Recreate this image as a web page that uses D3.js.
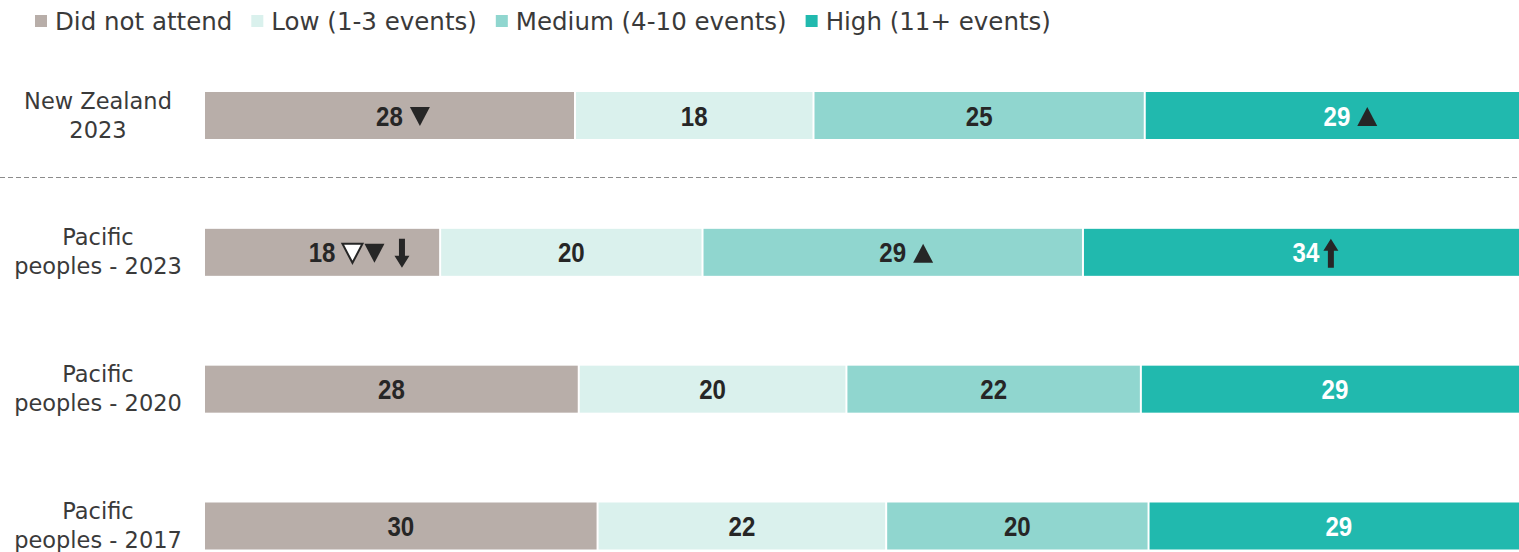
<!DOCTYPE html>
<html>
<head>
<meta charset="utf-8">
<script src="https://cdn.jsdelivr.net/npm/d3@7"></script>
<style>
  body { margin: 0; background: #fff; }
  svg { display: block; }
  .catLabel { font-family: "DejaVu Sans", sans-serif; font-size: 22.5px; fill: #3a3a3a; }
  .legendText { font-family: "DejaVu Sans", sans-serif; font-size: 24.5px; fill: #3a3a3a; }
  .valueLabel { font-family: "Liberation Sans", sans-serif; font-weight: bold; font-size: 28px; }
</style>
</head>
<body>
<svg id="chart" width="1519" height="552"></svg>
<script>
var categories = ['New Zealand 2023', 'Pacific peoples - 2023', 'Pacific peoples - 2020', 'Pacific peoples - 2017'];
var categoryLines = [['New Zealand', '2023'], ['Pacific', 'peoples - 2023'], ['Pacific', 'peoples - 2020'], ['Pacific', 'peoples - 2017']];
var seriesNames = ['Did not attend', 'Low (1-3 events)', 'Medium (4-10 events)', 'High (11+ events)'];
var seriesColors = ['#b8aea9', '#daf1ed', '#90d6cf', '#21b9ae'];
var labelColors = ['#262626', '#262626', '#262626', '#ffffff'];

var didNotAttend = [28, 18, 28, 30];
var low = [18, 20, 20, 22];
var medium = [25, 29, 22, 20];
var high = [29, 34, 29, 29];

// significance markers per row, per series
var markers = [
    [['down'], [], [], ['up']],
    [['downOpen', 'down', 'arrowDown'], [], ['up'], ['arrowUp']],
    [[], [], [], []],
    [[], [], [], []]
];

var seriesValues = [didNotAttend, low, medium, high];
var table = categories.map(function(c, i) {
    var row = { cat: c, idx: i };
    seriesNames.forEach(function(s, j) { row[s] = seriesValues[j][i]; });
    return row;
});

var svg = d3.select('#chart');

var x = d3.scaleLinear().domain([0, 1]).range([204, 1529]);
var y = d3.scalePoint().domain(categories).range([115.5, 526]);
var barH = 47;

var stacked = d3.stack().keys(seriesNames).offset(d3.stackOffsetExpand)(table);

// legend
var legend = svg.append('g').attr('transform', 'translate(35, 0)');
var lx = 0;
seriesNames.forEach(function(s, i) {
    legend.append('rect')
        .attr('x', lx).attr('y', 15)
        .attr('width', 12).attr('height', 12)
        .attr('fill', seriesColors[i]);
    var t = legend.append('text').classed('legendText', true)
        .attr('x', lx + 20).attr('y', 30)
        .text(s);
    lx += 20 + t.node().getComputedTextLength() + 19;
});

// dashed separator
svg.append('line')
    .attr('x1', 0).attr('x2', 1519)
    .attr('y1', 177.5).attr('y2', 177.5)
    .attr('stroke', '#8c8c8c')
    .attr('stroke-width', 1)
    .attr('stroke-dasharray', '5,3');

// category labels
categories.forEach(function(c, i) {
    var t = svg.append('text').classed('catLabel', true)
        .attr('text-anchor', 'middle')
        .attr('x', 98)
        .attr('y', y(c) - 7);
    categoryLines[i].forEach(function(line, k) {
        t.append('tspan').attr('x', 98).attr('dy', k == 0 ? 0 : 29).text(line);
    });
});

// bars
var layer = svg.selectAll('.layer')
    .data(stacked)
    .enter().append('g').classed('layer', true)
    .attr('fill', function(d, i) { return seriesColors[i]; });

layer.selectAll('rect')
    .data(function(d) { return d; })
    .enter().append('rect')
    .attr('x', function(d) { return x(d[0]) + 1; })
    .attr('y', function(d) { return y(d.data.cat) - barH / 2; })
    .attr('width', function(d) { return x(d[1]) - x(d[0]) - 2; })
    .attr('height', barH);

function markerPath(type) {
    var w = 20, h = 19;
    if (type == 'down' || type == 'downOpen')
        return { d: 'M0,' + (-h / 2) + 'L' + w + ',' + (-h / 2) + 'L' + (w / 2) + ',' + (h / 2) + 'Z', w: w };
    if (type == 'up')
        return { d: 'M0,' + (h / 2) + 'L' + w + ',' + (h / 2) + 'L' + (w / 2) + ',' + (-h / 2) + 'Z', w: w };
    var aw = 15, ah = 29, sw = 6, hh = 12;
    if (type == 'arrowDown')
        return { d: 'M' + (aw / 2 - sw / 2) + ',' + (-ah / 2) + 'h' + sw + 'v' + (ah - hh) + 'h' + (aw / 2 - sw / 2) +
                'L' + (aw / 2) + ',' + (ah / 2) + 'L0,' + (ah / 2 - hh) + 'h' + (aw / 2 - sw / 2) + 'Z', w: aw };
    return { d: 'M' + (aw / 2 - sw / 2) + ',' + (ah / 2) + 'h' + sw + 'v' + (-(ah - hh)) + 'h' + (aw / 2 - sw / 2) +
            'L' + (aw / 2) + ',' + (-ah / 2) + 'L0,' + (-ah / 2 + hh) + 'h' + (aw / 2 - sw / 2) + 'Z', w: aw };
}

// value labels with markers
var squeeze = 0.86;
stacked.forEach(function(series, j) {
    series.forEach(function(d, i) {
        var cx = (x(d[0]) + x(d[1])) / 2;
        var cy = y(d.data.cat);
        var t = svg.append('text').classed('valueLabel', true)
            .attr('transform', 'translate(' + cx + ',' + (cy + 10) + ') scale(' + squeeze + ',1)')
            .attr('text-anchor', 'middle')
            .attr('fill', labelColors[j])
            .text(d.data[series.key]);
        var mx = cx + t.node().getComputedTextLength() * squeeze / 2;
        markers[i][j].forEach(function(m, k) {
            var p = markerPath(m);
            if (k == 0) mx += (m.indexOf('arrow') == 0 ? 4 : 7);
            else if (m.indexOf('arrow') == 0) mx += 8;
            svg.append('path')
                .attr('transform', 'translate(' + mx + ',' + (cy + 1) + ')')
                .attr('d', p.d)
                .attr('fill', m == 'downOpen' ? '#fff' : '#262626')
                .attr('stroke', m == 'downOpen' ? '#262626' : 'none')
                .attr('stroke-width', 2)
                .attr('stroke-linejoin', 'miter');
            mx += p.w + 2;
        });
    });
});
</script>
</body>
</html>
